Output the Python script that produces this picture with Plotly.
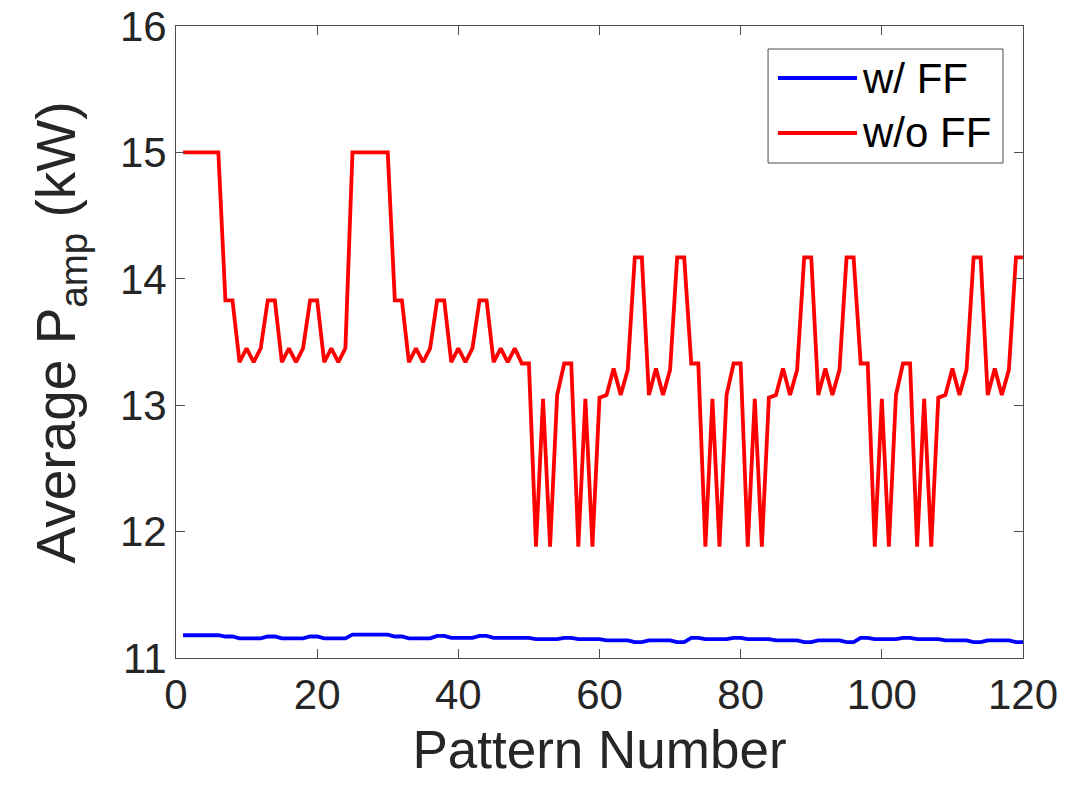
import plotly.graph_objects as go

pattern = list(range(1, 121))

# Average P_amp without feed-forward (kW)
p_wo_ff = [
    15.0, 15.0, 15.0, 15.0, 15.0, 15.0, 13.83, 13.83, 13.34, 13.45, 13.34, 13.45,
    13.83, 13.83, 13.34, 13.45, 13.34, 13.45, 13.83, 13.83, 13.34, 13.45, 13.34, 13.45,
    15.0, 15.0, 15.0, 15.0, 15.0, 15.0, 13.83, 13.83, 13.34, 13.45, 13.34, 13.45,
    13.83, 13.83, 13.34, 13.45, 13.34, 13.45, 13.83, 13.83, 13.34, 13.45, 13.34, 13.45,
    13.33, 13.33, 11.88, 13.05, 11.88, 13.08, 13.33, 13.33, 11.88, 13.05, 11.88, 13.06,
    13.08, 13.29, 13.08, 13.28, 14.17, 14.17, 13.08, 13.29, 13.08, 13.28, 14.17, 14.17,
    13.33, 13.33, 11.88, 13.05, 11.88, 13.08, 13.33, 13.33, 11.88, 13.05, 11.88, 13.06,
    13.08, 13.29, 13.08, 13.28, 14.17, 14.17, 13.08, 13.29, 13.08, 13.28, 14.17, 14.17,
    13.33, 13.33, 11.88, 13.05, 11.88, 13.08, 13.33, 13.33, 11.88, 13.05, 11.88, 13.06,
    13.08, 13.29, 13.08, 13.28, 14.17, 14.17, 13.08, 13.29, 13.08, 13.28, 14.17, 14.17,
]

# Average P_amp with feed-forward (kW)
p_w_ff = [
    11.18, 11.18, 11.18, 11.18, 11.18, 11.18, 11.17, 11.17, 11.155, 11.155, 11.155, 11.155,
    11.17, 11.17, 11.155, 11.155, 11.155, 11.155, 11.17, 11.17, 11.155, 11.155, 11.155, 11.155,
    11.185, 11.185, 11.185, 11.185, 11.185, 11.185, 11.17, 11.17, 11.155, 11.155, 11.155, 11.155,
    11.175, 11.175, 11.16, 11.16, 11.16, 11.16, 11.175, 11.175, 11.16, 11.16, 11.16, 11.16,
    11.16, 11.16, 11.15, 11.15, 11.15, 11.15, 11.16, 11.16, 11.15, 11.15, 11.15, 11.15,
    11.14, 11.14, 11.14, 11.14, 11.125, 11.125, 11.14, 11.14, 11.14, 11.14, 11.125, 11.125,
    11.16, 11.16, 11.15, 11.15, 11.15, 11.15, 11.16, 11.16, 11.15, 11.15, 11.15, 11.15,
    11.14, 11.14, 11.14, 11.14, 11.125, 11.125, 11.14, 11.14, 11.14, 11.14, 11.125, 11.125,
    11.16, 11.16, 11.15, 11.15, 11.15, 11.15, 11.16, 11.16, 11.15, 11.15, 11.15, 11.15,
    11.14, 11.14, 11.14, 11.14, 11.125, 11.125, 11.14, 11.14, 11.14, 11.14, 11.125, 11.125,
]

series_names = ["w/ FF", "w/o FF"]
series_colors = ["#0000ff", "#ff0000"]
x_ticks = [0, 20, 40, 60, 80, 100, 120]
y_ticks = [11, 12, 13, 14, 15, 16]

FONT = "Liberation Sans, Arial, Helvetica, sans-serif"
TXT = "#262626"
AX = "#4d4d4d"

fig = go.Figure()
fig.add_trace(go.Scatter(x=pattern, y=p_w_ff, mode="lines", name=series_names[0],
                         line=dict(color=series_colors[0], width=3.8), showlegend=False))
fig.add_trace(go.Scatter(x=pattern, y=p_wo_ff, mode="lines", name=series_names[1],
                         line=dict(color=series_colors[1], width=3.8), showlegend=False))

# Custom legend box (MATLAB style)
lx0, lx1, ly0, ly1 = 0.699, 0.9764, 0.9636, 0.7832
fig.add_shape(type="rect", xref="paper", yref="paper", x0=lx0, x1=lx1, y0=ly0, y1=ly1,
              line=dict(color=AX, width=1), fillcolor="white", layer="above")
rows = [0.9177, 0.8307]
for name, col, yy in zip(series_names, series_colors, rows):
    fig.add_shape(type="line", xref="paper", yref="paper", x0=0.7107, x1=0.804, y0=yy, y1=yy,
                  line=dict(color=col, width=3.8), layer="above")
    fig.add_annotation(xref="paper", yref="paper", x=0.808, y=yy, text=name, showarrow=False,
                       xanchor="left", yanchor="middle", font=dict(size=42, color="black", family=FONT))

# Y-axis title placed as rotated text
fig.add_annotation(xref="paper", yref="paper", x=-0.137, y=0.515, text="Average P<sub>amp</sub> (kW)",
                   textangle=-90, showarrow=False, xanchor="center", yanchor="middle",
                   font=dict(size=55, color=TXT, family=FONT))

fig.update_xaxes(range=[0, 120], tickvals=x_ticks, ticks="inside", ticklen=9, tickcolor=AX,
                 showline=True, linecolor=AX, linewidth=1, mirror="ticks", showgrid=False,
                 zeroline=False, automargin=False, tickfont=dict(size=42, color=TXT, family=FONT),
                 title=dict(text="Pattern Number", font=dict(size=53, color=TXT, family=FONT), standoff=13))
fig.update_yaxes(range=[11, 16], tickvals=y_ticks, ticks="inside", ticklen=9, tickcolor=AX,
                 showline=True, linecolor=AX, linewidth=1, mirror="ticks", showgrid=False,
                 zeroline=False, automargin=False, tickfont=dict(size=42, color=TXT, family=FONT))

fig.update_layout(width=1088, height=796, plot_bgcolor="white", paper_bgcolor="white",
                  margin=dict(l=176, r=65, t=26, b=138), font=dict(family=FONT))

fig.write_html("out.html")
